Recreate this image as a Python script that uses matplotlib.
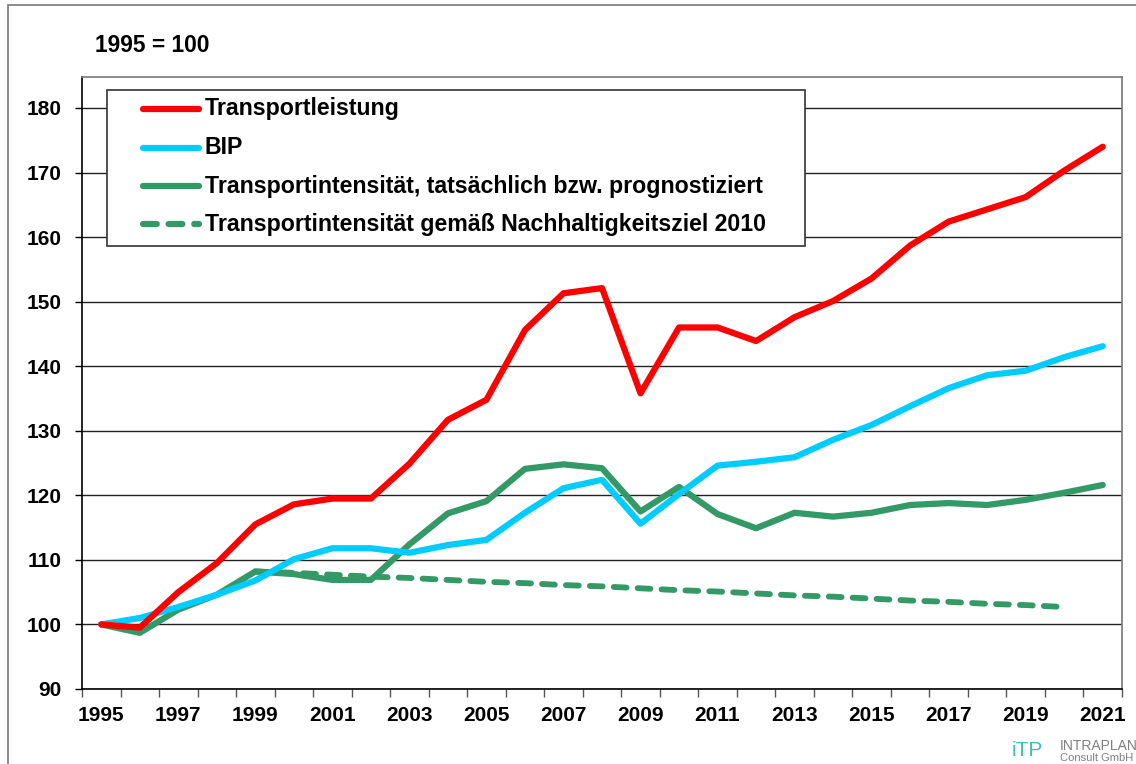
import matplotlib
matplotlib.use("Agg")
import matplotlib.pyplot as plt
from matplotlib.lines import Line2D
from matplotlib.patches import Rectangle

plt.rcParams["font.family"] = ["Liberation Sans", "DejaVu Sans"]
plt.rcParams["font.weight"] = "bold"

# ----------------------------
# Data (index 1995 = 100)
# ----------------------------
years = list(range(1995, 2022))

transportleistung = [100.0, 99.5, 105.0, 109.5, 115.5, 118.6, 119.5, 119.5, 124.9, 131.7,
                     134.8, 145.6, 151.3, 152.1, 135.8, 146.0, 146.0, 143.9, 147.6, 150.1,
                     153.6, 158.7, 162.4, 164.3, 166.2, 170.3, 174.0]

bip = [100.0, 101.0, 102.7, 104.6, 106.8, 110.1, 111.8, 111.8, 111.1, 112.3,
       113.1, 117.3, 121.1, 122.4, 115.6, 120.2, 124.6, 125.2, 125.9, 128.6,
       130.9, 133.8, 136.6, 138.6, 139.3, 141.4, 143.1]

intensitaet = [100.0, 98.7, 102.3, 104.6, 108.2, 107.8, 106.9, 106.9, 112.4, 117.2,
               119.1, 124.1, 124.8, 124.2, 117.5, 121.3, 117.1, 114.9, 117.3, 116.7,
               117.3, 118.5, 118.8, 118.5, 119.3, 120.4, 121.6]

ziel_years = list(range(1999, 2021))
ziel_2010 = [108.2, 108.0, 107.7, 107.4, 107.2, 106.9, 106.6, 106.4, 106.1, 105.9,
             105.6, 105.3, 105.1, 104.8, 104.5, 104.3, 104.0, 103.7, 103.5, 103.2,
             103.0, 102.7]

y_ticks = list(range(90, 181, 10))
x_labels = [str(y) for y in years[::2]]

labels = [
    "Transportleistung",
    "BIP",
    "Transportintensität, tatsächlich bzw. prognostiziert",
    "Transportintensität gemäß Nachhaltigkeitsziel 2010",
]

RED = "#FF0000"
CYAN = "#00CCFF"
GREEN = "#339966"
LW = 4.5
DASH = (2.2, 1.9)

W, H = 1136, 764
fig = plt.figure(figsize=(W / 100, H / 100), dpi=100)
ax = fig.add_axes([82 / W, 1 - 689 / H, (1122 - 82) / W, (689 - 77) / H])

xi = [y - 1995 for y in years]
zi = [y - 1995 for y in ziel_years]

ax.plot(zi, ziel_2010, color=GREEN, lw=LW - 0.3, dashes=DASH,
        dash_capstyle="round", zorder=3)
ax.plot(xi, intensitaet, color=GREEN, lw=LW, solid_capstyle="round",
        solid_joinstyle="round", zorder=4)
ax.plot(xi, bip, color=CYAN, lw=LW, solid_capstyle="round",
        solid_joinstyle="round", zorder=5)
ax.plot(xi, transportleistung, color=RED, lw=LW, solid_capstyle="round",
        solid_joinstyle="round", zorder=6)

ax.set_xlim(-0.5, len(years) - 0.5)
ax.set_ylim(90, 184.8)

# y axis
ax.set_yticks(y_ticks)
ax.set_yticklabels([str(v) for v in y_ticks], fontsize=15, fontweight="bold")
ax.tick_params(axis="y", direction="out", length=5, width=1, pad=10)
ax.yaxis.grid(True, color="#222222", lw=1.0)
ax.set_axisbelow(True)

# x axis: tick marks between categories, labels every other year
ax.set_xticks([i - 0.5 for i in range(len(years) + 1)])
ax.set_xticklabels([])
ax.tick_params(axis="x", which="major", direction="out", length=6, width=1, color="#555555")
ax.set_xticks(list(range(0, len(years), 2)), minor=True)
ax.set_xticklabels(x_labels, minor=True, fontsize=15, fontweight="bold")
ax.tick_params(axis="x", which="minor", length=0, pad=12)

ax.spines["left"].set_color("black")
ax.spines["bottom"].set_color("black")
ax.spines["top"].set_color("#777777")
ax.spines["right"].set_color("#777777")
for s in ax.spines.values():
    s.set_linewidth(1.2)

# legend drawn by hand
fig.patches.append(Rectangle((107 / W, 1 - 246 / H), (805 - 107) / W, (246 - 90) / H,
                             transform=fig.transFigure, facecolor="white",
                             edgecolor="#333333", lw=1.2, zorder=10))
legend_y = [109, 148, 186, 224]
styles = [(RED, None), (CYAN, None), (GREEN, None), (GREEN, DASH)]
for (color, dash), ly, lab in zip(styles, legend_y, labels):
    yy = 1 - ly / H
    ln = Line2D([143 / W, 199 / W], [yy, yy], transform=fig.transFigure,
                color=color, lw=LW, solid_capstyle="round", zorder=11)
    if dash:
        ln.set_dashes(dash)
        ln.set_dash_capstyle("round")
    fig.lines.append(ln)
    fig.text(205 / W, yy, lab, fontsize=16.7, fontweight="bold", va="center",
             ha="left", zorder=12)

fig.text(95 / W, 1 - 45 / H, "1995 = 100", fontsize=16.4, fontweight="bold",
         va="center", ha="left")

# outer frame
fig.patches.append(Rectangle((8 / W, -0.05), 1.1, 1.05 - 5 / H, transform=fig.transFigure,
                             facecolor="none", edgecolor="#777777", lw=1.2, zorder=0))

# company mark
fig.text(1012 / W, 1 - 750 / H, "iTP", fontsize=15, color="#3DBDB5",
         fontweight="normal", va="center", ha="left")
fig.text(1060 / W, 1 - 746 / H, "INTRAPLAN", fontsize=10, color="#808080",
         fontweight="normal", va="center", ha="left")
fig.text(1060 / W, 1 - 758 / H, "Consult GmbH", fontsize=8, color="#808080",
         fontweight="normal", va="center", ha="left")

fig.savefig("out.png", dpi=100)
